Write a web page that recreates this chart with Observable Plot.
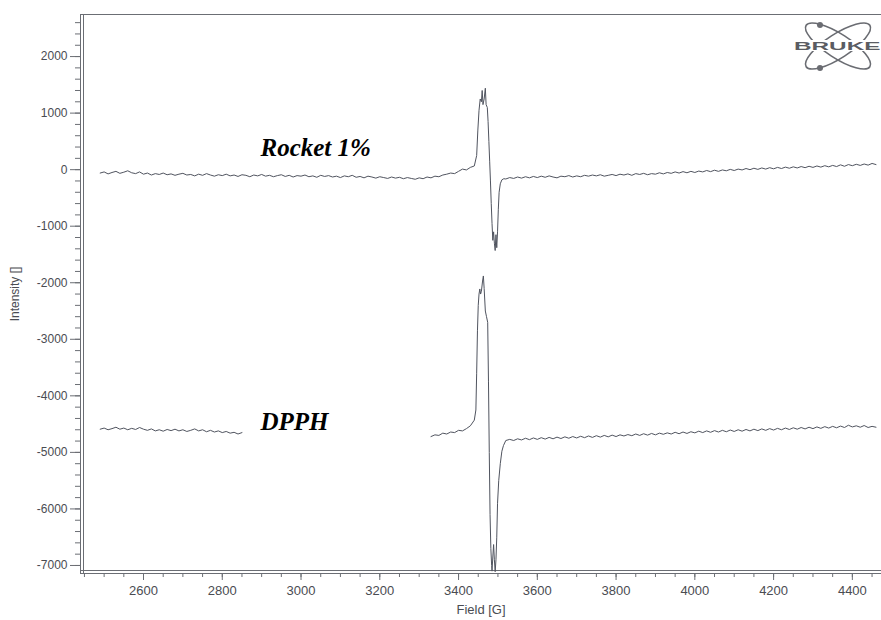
<!DOCTYPE html>
<html>
<head>
<meta charset="utf-8">
<script src="https://cdn.jsdelivr.net/npm/d3@7"></script>
<script src="https://cdn.jsdelivr.net/npm/@observablehq/plot@0.6"></script>
<style>
  html, body { margin: 0; padding: 0; background: #fff; }
  #wrap { position: relative; width: 881px; height: 620px; overflow: hidden; }
  #logo { position: absolute; left: 0; top: 0; pointer-events: none; }
</style>
</head>
<body>
<div id="wrap"></div>
<script>
// ---- Tick labels ----
const yTickValues = [-7000, -6000, -5000, -4000, -3000, -2000, -1000, 0, 1000, 2000];
const xTickValues = [2600, 2800, 3000, 3200, 3400, 3600, 3800, 4000, 4200, 4400];

// ---- Series: [field (G), intensity] ----
const rocketLeft = [
[2490,-60],[2500,-40],[2510,-75],[2520,-50],[2530,-30],[2540,-65],[2550,-45],[2560,-20],[2570,-55],[2580,-70],
[2590,-40],[2600,-80],[2610,-60],[2620,-95],[2630,-70],[2640,-85],[2650,-60],[2660,-90],[2670,-75],[2680,-100],
[2690,-80],[2700,-65],[2710,-95],[2720,-85],[2730,-110],[2740,-80],[2750,-100],[2760,-70],[2770,-95],[2780,-115],
[2790,-90],[2800,-105],[2810,-80],[2820,-110],[2830,-95],[2840,-120],[2850,-90],[2860,-100],[2870,-125],[2880,-95],
[2890,-110],[2900,-85],[2910,-115],[2920,-100],[2930,-125],[2940,-105],[2950,-90],[2960,-120],[2970,-100],[2980,-130],
[2990,-105],[3000,-115],[3010,-95],[3020,-125],[3030,-110],[3040,-135],[3050,-100],[3060,-120],[3070,-105],[3080,-130],
[3090,-115],[3100,-140],[3110,-110],[3120,-125],[3130,-100],[3140,-135],[3150,-120],[3160,-145],[3170,-115],[3180,-130],
[3190,-150],[3200,-125],[3210,-140],[3220,-155],[3230,-130],[3240,-150],[3250,-135],[3260,-160],[3270,-140],[3280,-155],
[3290,-170],[3300,-145],[3310,-160],[3320,-130],[3330,-145],[3340,-115],[3350,-125],[3360,-95],[3370,-80],[3380,-60],
[3390,-70],[3400,-30],[3410,10],[3420,-5],[3430,40],[3440,65]
];
const rocketPeak = [
[3446,250],[3449,700],[3452,1050],[3455,1250],[3458,1200],[3460,1400],[3462,1150],[3465,1250],[3468,1440],[3470,1150],
[3473,1100],[3475,850],[3477,500],[3479,150],[3481,-200],[3483,-600],[3485,-950],[3487,-1250],[3489,-1100],[3491,-1300],
[3493,-1430],[3495,-1150],[3497,-1380],[3499,-1100],[3501,-700],[3503,-400],[3506,-250],[3510,-180],[3515,-160]
];
const rocketRight = [
[3520,-165],[3530,-140],[3540,-155],[3550,-130],[3560,-150],[3570,-125],[3580,-145],[3590,-120],[3600,-140],[3610,-115],
[3620,-135],[3630,-110],[3640,-130],[3650,-145],[3660,-115],[3670,-125],[3680,-105],[3690,-130],[3700,-110],[3710,-125],
[3720,-100],[3730,-115],[3740,-95],[3750,-110],[3760,-90],[3770,-115],[3780,-100],[3790,-85],[3800,-105],[3810,-80],
[3820,-95],[3830,-75],[3840,-100],[3850,-70],[3860,-85],[3870,-65],[3880,-90],[3890,-70],[3900,-80],[3910,-55],
[3920,-75],[3930,-50],[3940,-65],[3950,-40],[3960,-60],[3970,-35],[3980,-55],[3990,-30],[4000,-50],[4010,-25],
[4020,-40],[4030,-15],[4040,-35],[4050,-10],[4060,-30],[4070,-5],[4080,-20],[4090,5],[4100,-15],[4110,10],
[4120,-5],[4130,20],[4140,0],[4150,25],[4160,5],[4170,30],[4180,10],[4190,35],[4200,15],[4210,40],
[4220,20],[4230,45],[4240,25],[4250,50],[4260,30],[4270,55],[4280,35],[4290,60],[4300,40],[4310,65],
[4320,45],[4330,70],[4340,50],[4350,75],[4360,55],[4370,85],[4380,60],[4390,90],[4400,70],[4410,95],
[4420,75],[4430,100],[4440,80],[4450,110],[4460,90]
];
const dpphLeft = [
[2490,-4590],[2500,-4570],[2510,-4600],[2520,-4580],[2530,-4555],[2540,-4590],[2550,-4570],[2560,-4600],[2570,-4575],[2580,-4595],
[2590,-4560],[2600,-4590],[2610,-4610],[2620,-4585],[2630,-4620],[2640,-4600],[2650,-4625],[2660,-4595],[2670,-4615],[2680,-4590],
[2690,-4620],[2700,-4600],[2710,-4630],[2720,-4610],[2730,-4585],[2740,-4620],[2750,-4600],[2760,-4635],[2770,-4610],[2780,-4640],
[2790,-4620],[2800,-4650],[2810,-4630],[2820,-4660],[2830,-4645],[2840,-4675],[2850,-4650]
];
const dpphPeak = [
[3330,-4720],[3340,-4690],[3350,-4700],[3360,-4660],[3370,-4675],[3380,-4640],[3390,-4650],[3400,-4610],[3410,-4620],[3420,-4580],
[3430,-4530],[3440,-4430],[3444,-4250],[3446,-3600],[3448,-2850],[3450,-2400],[3452,-2200],[3454,-2110],[3456,-2200],[3458,-2150],
[3461,-1970],[3463,-1880],[3465,-2100],[3468,-2500],[3471,-2600],[3474,-2700],[3476,-3740],[3478,-5000],[3480,-6100],[3482,-6700],
[3484,-7000],[3485,-7100],[3487,-6850],[3489,-6630],[3491,-6900],[3493,-7110],[3495,-6900],[3497,-6500],[3499,-5900],[3502,-5500],
[3506,-5200],[3510,-4980],[3514,-4880],[3520,-4790]
];
const dpphRight = [
[3530,-4770],[3540,-4790],[3550,-4760],[3560,-4780],[3570,-4750],[3580,-4775],[3590,-4745],[3600,-4770],[3610,-4740],[3620,-4765],
[3630,-4735],[3640,-4760],[3650,-4730],[3660,-4755],[3670,-4725],[3680,-4750],[3690,-4720],[3700,-4745],[3710,-4715],[3720,-4740],
[3730,-4710],[3740,-4735],[3750,-4705],[3760,-4730],[3770,-4700],[3780,-4725],[3790,-4695],[3800,-4720],[3810,-4690],[3820,-4710],
[3830,-4685],[3840,-4705],[3850,-4675],[3860,-4700],[3870,-4670],[3880,-4695],[3890,-4665],[3900,-4690],[3910,-4660],[3920,-4680],
[3930,-4655],[3940,-4675],[3950,-4645],[3960,-4670],[3970,-4640],[3980,-4665],[3990,-4635],[4000,-4655],[4010,-4625],[4020,-4650],
[4030,-4620],[4040,-4645],[4050,-4615],[4060,-4640],[4070,-4610],[4080,-4635],[4090,-4605],[4100,-4630],[4110,-4600],[4120,-4625],
[4130,-4595],[4140,-4620],[4150,-4590],[4160,-4615],[4170,-4585],[4180,-4610],[4190,-4580],[4200,-4605],[4210,-4575],[4220,-4600],
[4230,-4570],[4240,-4595],[4250,-4565],[4260,-4590],[4270,-4560],[4280,-4585],[4290,-4555],[4300,-4580],[4310,-4550],[4320,-4575],
[4330,-4545],[4340,-4570],[4350,-4540],[4360,-4565],[4370,-4535],[4380,-4560],[4390,-4520],[4400,-4550],[4410,-4530],[4420,-4555],
[4430,-4525],[4440,-4560],[4450,-4540],[4460,-4555]
];

// ---- Labels for the traces ----
const traceLabels = [
  {field: 2897, intensity: 246, text: "Rocket 1%"},
  {field: 2897, intensity: -4608, text: "DPPH"}
];

// ---- Build tables ----
const rocket = [...rocketLeft, ...rocketPeak, ...rocketRight].map(([f, v]) => ({field: f, intensity: v}));
const dpph = [
  ...dpphLeft.map(([f, v]) => ({field: f, intensity: v})),
  {field: 3090, intensity: NaN},               // break where the spectrum is masked
  ...[...dpphPeak, ...dpphRight].map(([f, v]) => ({field: f, intensity: v}))
];

const xDomain = [2440, 4474];
const yDomain = [-7142, 2744];
const yMinor = d3.range(-7000, 2701, 200);
const xMinor = d3.range(2450, 4474, 50);

const axisColor = "#6b6e74";
const textColor = "#4a4c52";
const traceColor = "#50545f";

const chart = Plot.plot({
  width: 881,
  height: 620,
  marginLeft: 80,
  marginRight: 0,
  marginTop: 14,
  marginBottom: 47,
  style: {background: "#fff", fontFamily: "Liberation Sans, Arial, sans-serif", color: textColor},
  x: {domain: xDomain},
  y: {domain: yDomain},
  marks: [
    // frame lines (double lines on left/bottom, as in the scan)
    Plot.ruleY([yDomain[1]], {stroke: axisColor, strokeWidth: 1}),
    Plot.ruleX([xDomain[0]], {stroke: axisColor, strokeWidth: 1}),
    Plot.ruleX([xDomain[0]], {stroke: axisColor, strokeWidth: 1, dx: 3}),
    Plot.ruleY([yDomain[0]], {stroke: axisColor, strokeWidth: 1}),
    Plot.ruleY([yDomain[0]], {stroke: axisColor, strokeWidth: 1, dy: -3}),
    // axes
    Plot.axisY({ticks: yMinor, tickSize: 5, text: null, label: null, stroke: axisColor}),
    Plot.axisY({
      ticks: yTickValues, tickSize: 10, tickPadding: 3, tickFormat: d => `${d}`,
      fontSize: 12, stroke: axisColor, fill: textColor,
      label: "Intensity []", labelAnchor: "center", labelArrow: "none", labelOffset: 70
    }),
    Plot.axisX({ticks: xMinor, tickSize: 4, text: null, label: null, stroke: axisColor}),
    Plot.axisX({
      ticks: xTickValues, tickSize: 7, tickPadding: 5, tickFormat: d => `${d}`,
      fontSize: 13, stroke: axisColor, fill: textColor,
      label: "Field [G]", labelAnchor: "center", labelArrow: "none", labelOffset: 40
    }),
    // spectra
    Plot.line(rocket, {x: "field", y: "intensity", stroke: traceColor, strokeWidth: 1}),
    Plot.line(dpph, {x: "field", y: "intensity", stroke: traceColor, strokeWidth: 1}),
    // trace labels
    Plot.text(traceLabels, {
      x: "field", y: "intensity", text: "text", textAnchor: "start", lineAnchor: "bottom",
      fontFamily: "Liberation Serif, 'Times New Roman', serif", fontWeight: "bold", fontStyle: "italic",
      fontSize: 25, fill: "#000"
    })
  ]
});

const wrap = document.getElementById("wrap");
wrap.appendChild(chart);

// Bruker logo (decorative, top-right corner of the scan)
const ns = "http://www.w3.org/2000/svg";
const logo = document.createElementNS(ns, "svg");
logo.setAttribute("id", "logo");
logo.setAttribute("width", "881");
logo.setAttribute("height", "620");
logo.innerHTML = `
  <g fill="none" stroke="#6a6c72" stroke-width="1.6">
    <ellipse cx="838" cy="46" rx="38" ry="12" transform="rotate(33 838 46)"/>
    <ellipse cx="838" cy="46" rx="38" ry="12" transform="rotate(-33 838 46)"/>
  </g>
  <g fill="#6a6c72">
    <circle cx="820" cy="25" r="3"/>
    <circle cx="820" cy="68" r="3"/>
  </g>
  <rect x="793" y="40" width="90" height="11" fill="#fff"/>
  <text x="794" y="50" font-family="Liberation Sans, Arial, sans-serif" font-weight="bold" font-size="11.5"
        fill="#5a5c62" textLength="104" lengthAdjust="spacingAndGlyphs">BRUKER</text>
`;
wrap.appendChild(logo);
</script>
</body>
</html>
